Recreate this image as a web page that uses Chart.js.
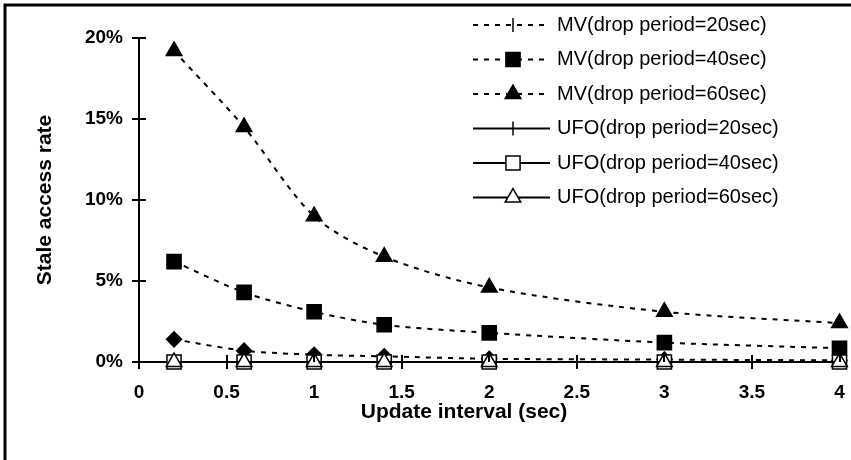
<!DOCTYPE html>
<html>
<head>
<meta charset="utf-8">
<title>Stale access rate</title>
<script src="https://cdn.jsdelivr.net/npm/chart.js@4/dist/chart.umd.min.js"></script>
<style>
  html, body { margin: 0; padding: 0; background: #fff; }
  #wrap { width: 851px; height: 460px; }
  canvas { display: block; }
</style>
</head>
<body>
<div id="wrap"><canvas id="myChart" width="851" height="460"></canvas></div>
<script>
// update interval (sec) on the x axis
var intervals = [0.2, 0.6, 1, 1.4, 2, 3, 4];

// stale access rate in percent
var mv20  = [1.4, 0.7, 0.45, 0.35, 0.2, 0.15, 0.1];
var mv40  = [6.2, 4.3, 3.1, 2.3, 1.8, 1.2, 0.85];
var mv60  = [19.2, 14.5, 9.0, 6.5, 4.6, 3.1, 2.4];
var ufo20 = [0, 0, 0, 0, 0, 0, 0];
var ufo40 = [0, 0, 0, 0, 0, 0, 0];
var ufo60 = [0, 0, 0, 0, 0, 0, 0];

var xTickValues = [0, 0.5, 1, 1.5, 2, 2.5, 3, 3.5, 4];
var yTickValues = [0, 5, 10, 15, 20];

var seriesNames = [
  'MV(drop period=20sec)',
  'MV(drop period=40sec)',
  'MV(drop period=60sec)',
  'UFO(drop period=20sec)',
  'UFO(drop period=40sec)',
  'UFO(drop period=60sec)'
];
var xTitle = 'Update interval (sec)';

var FONT = 'Liberation Sans, Arial, Helvetica, sans-serif';

function pts(arr) {
  return intervals.map(function(x, i) { return { x: x, y: arr[i] }; });
}

function series(name, arr, opts) {
  return Object.assign({
    label: name,
    data: pts(arr),
    borderColor: '#000',
    pointBorderColor: '#000',
    pointBackgroundColor: '#000',
    borderWidth: 2,
    pointBorderWidth: 1.5,
    tension: 0.3,
    clip: false
  }, opts);
}

var datasets = [
  series(seriesNames[0], mv20, { borderDash: [5, 6], pointStyle: 'rectRot', pointRadius: 7.5, order: 5,
    legendMarker: { style: 'line', rotation: 90, radius: 7 } }),
  series(seriesNames[1], mv40, { borderDash: [5, 6], pointStyle: 'rect', pointRadius: 10, order: 4 }),
  series(seriesNames[2], mv60, { borderDash: [5, 6], pointStyle: 'triangle', pointRadius: 9, order: 3 }),
  series(seriesNames[3], ufo20, { pointStyle: 'line', pointRotation: 90, pointRadius: 7, order: 2 }),
  series(seriesNames[4], ufo40, { pointStyle: 'rect', pointRadius: 10, pointBackgroundColor: '#fff', order: 1 }),
  series(seriesNames[5], ufo60, { pointStyle: 'triangle', pointRadius: 9, pointBackgroundColor: '#fff', order: 0 })
];

// outer frame, inward half of the tick marks, x title and the key in the top right
var decorations = {
  id: 'decorations',
  beforeDraw: function(chart) {
    var ctx = chart.ctx;
    ctx.save();
    ctx.fillStyle = '#fff';
    ctx.fillRect(0, 0, chart.width, chart.height);
    ctx.strokeStyle = '#000';
    ctx.lineWidth = 3;
    ctx.beginPath();
    ctx.moveTo(5, chart.height);
    ctx.lineTo(5, 5);
    ctx.lineTo(chart.width, 5);
    ctx.stroke();
    ctx.restore();
  },
  afterDraw: function(chart) {
    var ctx = chart.ctx;
    var xs = chart.scales.x, ys = chart.scales.y;
    var area = chart.chartArea;
    ctx.save();
    ctx.strokeStyle = '#000';
    ctx.lineWidth = 2;
    ctx.beginPath();
    xTickValues.forEach(function(v) {
      var px = Math.round(xs.getPixelForValue(v));
      ctx.moveTo(px, area.bottom);
      ctx.lineTo(px, area.bottom - 7);
    });
    yTickValues.forEach(function(v) {
      var py = Math.round(ys.getPixelForValue(v));
      ctx.moveTo(area.left, py);
      ctx.lineTo(area.left + 7, py);
    });
    ctx.stroke();

    ctx.fillStyle = '#000';
    ctx.font = 'bold 21px ' + FONT;
    ctx.textAlign = 'center';
    ctx.textBaseline = 'middle';
    ctx.fillText(xTitle, 464, 412);

    // key
    var x0 = 473, x1 = 550, mx = 513, tx = 557, y0 = 25, step = 34.5;
    ctx.font = '20px ' + FONT;
    ctx.textBaseline = 'middle';
    ctx.textAlign = 'left';
    chart.data.datasets.forEach(function(ds, i) {
      var y = y0 + i * step;
      ctx.save();
      ctx.strokeStyle = '#000';
      ctx.lineWidth = 2;
      ctx.setLineDash(ds.borderDash || []);
      ctx.beginPath();
      ctx.moveTo(x0, y);
      ctx.lineTo(x1, y);
      ctx.stroke();
      ctx.restore();

      var m = ds.legendMarker || { style: ds.pointStyle, rotation: ds.pointRotation || 0, radius: ds.pointRadius };
      ctx.save();
      ctx.strokeStyle = '#000';
      ctx.fillStyle = ds.pointBackgroundColor;
      ctx.lineWidth = 1.5;
      ctx.setLineDash([]);
      Chart.helpers.drawPoint(ctx, { pointStyle: m.style, rotation: m.rotation, radius: m.radius, borderWidth: 1.5 }, mx, y);
      ctx.restore();

      ctx.fillStyle = '#000';
      ctx.fillText(ds.label, tx, y);
    });
    ctx.restore();
  }
};

var ctx = document.getElementById('myChart').getContext('2d');
var chart = new Chart(ctx, {
  type: 'line',
  data: { datasets: datasets },
  options: {
    responsive: false,
    animation: false,
    devicePixelRatio: 1,
    layout: { padding: { top: 38, right: 9, bottom: 0, left: 0 } },
    plugins: { legend: { display: false }, tooltip: { enabled: false } },
    scales: {
      x: {
        type: 'linear',
        min: 0,
        max: 4,
        afterFit: function(scale) {
          scale.height = 98;
          scale.paddingLeft = 0;
          scale.paddingRight = 0;
        },
        afterBuildTicks: function(scale) {
          scale.ticks = xTickValues.map(function(v) { return { value: v }; });
        },
        ticks: {
          color: '#000',
          padding: 12,
          maxRotation: 0,
          autoSkip: false,
          font: { family: FONT, size: 19, weight: 'bold' },
          callback: function(v) { return String(v); }
        },
        grid: { drawOnChartArea: false, color: '#000', lineWidth: 2, tickLength: 7 },
        border: { color: '#000', width: 2 }
      },
      y: {
        min: 0,
        max: 20,
        afterFit: function(scale) { scale.width = 139; },
        afterBuildTicks: function(scale) {
          scale.ticks = yTickValues.map(function(v) { return { value: v }; });
        },
        ticks: {
          color: '#000',
          padding: 9,
          font: { family: FONT, size: 19, weight: 'bold' },
          callback: function(v) { return v + '%'; }
        },
        grid: { drawOnChartArea: false, color: '#000', lineWidth: 2, tickLength: 7 },
        border: { color: '#000', width: 2 },
        title: {
          display: true,
          text: 'Stale access rate',
          color: '#000',
          font: { family: FONT, size: 21, weight: 'bold' },
          padding: { top: 33, bottom: 0 }
        }
      }
    }
  },
  plugins: [decorations]
});
</script>
</body>
</html>
